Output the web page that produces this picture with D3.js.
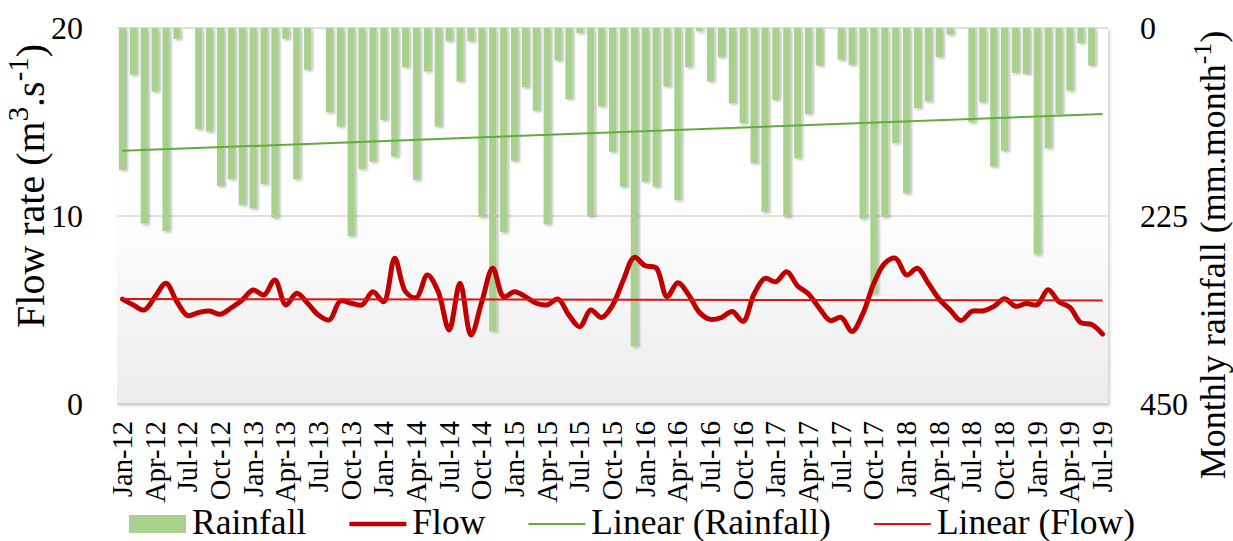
<!DOCTYPE html>
<html>
<head>
<meta charset="utf-8">
<script src="https://cdn.jsdelivr.net/npm/d3@7"></script>
<style>
  html, body { margin: 0; padding: 0; background: #fff; }
  svg { display: block; }
  svg text { font-family: "Liberation Serif", "Times New Roman", serif; }
</style>
</head>
<body>
<svg id="chart" width="1233" height="541"></svg>
<script>
/* ── Data: monthly rainfall (mm) and mean flow (m3/s), Jan-12 .. Jul-19 ── */
const months = d3.timeMonth
  .range(new Date(2012, 0, 1), new Date(2019, 7, 1))
  .map(d3.timeFormat('%b-%y'));

const rainfall = [
  170,  56, 234,  76, 243,  13,   0, 121, 124, 189, 181, 212,   // 2012
  216, 187, 227,  13, 181,  50,   0, 101, 118, 249, 169, 160,   // 2013
  110, 154,  47, 182,  52, 118,  16,  64,  16, 226, 363, 244,   // 2014
  159,  71,  99, 235,  39,  85,   6, 225,  94, 148, 190, 381,   // 2015
  184, 190,  70, 206,  47,   4,  64,  35,  90, 114, 162, 220,   // 2016
   86, 226, 156, 103,  45,   0,  38,  44, 228, 318, 226, 138,   // 2017
  198,  96,  88,  35,   8,   0, 113,  89, 166, 147,  54,  55,   // 2018
  271, 144, 103,  75,  18,  45,   0                             // 2019
];

const flow = [
  5.58, 5.27, 5.00, 5.71, 6.42, 5.44, 4.70, 4.87, 4.95, 4.77, 5.12, 5.53,
  6.06, 5.80, 6.60, 5.27, 5.89, 5.36, 4.73, 4.47, 5.48, 5.36, 5.27, 5.97,
  5.44, 7.75, 5.97, 5.66, 6.86, 5.97, 3.94, 6.42, 3.67, 5.44, 7.22, 5.71,
  5.97, 5.71, 5.36, 5.27, 5.58, 4.73, 4.11, 5.00, 4.60, 5.25, 6.60, 7.80,
  7.35, 7.25, 5.71, 6.45, 5.80, 4.86, 4.50, 4.60, 4.92, 4.40, 5.85, 6.68,
  6.50, 7.04, 6.28, 5.85, 5.09, 4.43, 4.61, 3.85, 4.82, 6.42, 7.48, 7.75,
  6.86, 7.22, 6.42, 5.58, 5.00, 4.44, 4.93, 4.95, 5.18, 5.60, 5.20, 5.34,
  5.28, 6.08, 5.44, 5.14, 4.33, 4.23, 3.72
];

// Linear trend values at the first and last month
const rainfallTrend = [147, 103];
const flowTrend     = [5.58, 5.51];

const tickLabels = [
  'Jan-12', 'Apr-12', 'Jul-12', 'Oct-12', 'Jan-13', 'Apr-13', 'Jul-13', 'Oct-13',
  'Jan-14', 'Apr-14', 'Jul-14', 'Oct-14', 'Jan-15', 'Apr-15', 'Jul-15', 'Oct-15',
  'Jan-16', 'Apr-16', 'Jul-16', 'Oct-16', 'Jan-17', 'Apr-17', 'Jul-17', 'Oct-17',
  'Jan-18', 'Apr-18', 'Jul-18', 'Oct-18', 'Jan-19', 'Apr-19', 'Jul-19'
];
const flowTicks     = [0, 10, 20];
const rainfallTicks = [0, 225, 450];

/* ── Layout ── */
const plot = { left: 117, right: 1108, top: 28, bottom: 404 };

const C_BAR   = '#a9d18e';
const C_FLOW  = '#c00000';
const C_RTRND = '#5fae3a';
const C_FTRND = '#dd1111';

const svg = d3.select('#chart');
const defs = svg.append('defs');

/* 1 ─ Plot area background: white fading to light grey ─────── */
const grad = defs.append('linearGradient')
  .attr('id', 'plotBg').attr('x1', 0).attr('y1', 0).attr('x2', 0).attr('y2', 1);
grad.append('stop').attr('offset', '0%').attr('stop-color', '#ffffff');
grad.append('stop').attr('offset', '45%').attr('stop-color', '#ffffff');
grad.append('stop').attr('offset', '100%').attr('stop-color', '#ececec');

const plotShadow = defs.append('filter').attr('id', 'plotShadow')
  .attr('x', '-5%').attr('y', '-5%').attr('width', '110%').attr('height', '110%');
plotShadow.append('feDropShadow')
  .attr('dx', 2).attr('dy', 2).attr('stdDeviation', 1.5)
  .attr('flood-color', '#000').attr('flood-opacity', 0.18);

const barShadow = defs.append('filter').attr('id', 'barShadow')
  .attr('x', '-50%').attr('y', '-5%').attr('width', '200%').attr('height', '115%');
barShadow.append('feDropShadow')
  .attr('dx', 2).attr('dy', 1.5).attr('stdDeviation', 1.2)
  .attr('flood-color', '#000').attr('flood-opacity', 0.25);

svg.append('rect')
  .attr('x', plot.left).attr('y', plot.top)
  .attr('width', plot.right - plot.left).attr('height', plot.bottom - plot.top)
  .attr('fill', 'url(#plotBg)')
  .attr('filter', 'url(#plotShadow)');

/* 2 ─ Scales ───────────────────────────────────────────────── */
const x = d3.scaleBand()
  .domain(months)
  .range([plot.left, plot.right])
  .paddingInner(0.35)
  .paddingOuter(0.175);
const cx = m => x(m) + x.bandwidth() / 2;

const yFlow = d3.scaleLinear().domain([0, 20]).range([plot.bottom, plot.top]);
const yRain = d3.scaleLinear().domain([0, 450]).range([plot.top, plot.bottom]);

/* 3 ─ Gridlines ────────────────────────────────────────────── */
svg.append('g')
  .selectAll('line')
  .data(flowTicks)
  .join('line')
  .attr('x1', plot.left).attr('x2', plot.right)
  .attr('y1', d => yFlow(d)).attr('y2', d => yFlow(d))
  .attr('stroke', d => d === 0 ? '#c8c8c8' : '#d6d6d6')
  .attr('stroke-width', 1.5);

/* 4 ─ Rainfall bars hanging from the top (inverted axis) ────── */
svg.append('g')
  .attr('filter', 'url(#barShadow)')
  .selectAll('rect')
  .data(months.map((m, i) => ({ m, v: rainfall[i] })))
  .join('rect')
  .attr('x', d => x(d.m))
  .attr('y', yRain(0))
  .attr('width', x.bandwidth())
  .attr('height', d => yRain(d.v) - yRain(0))
  .attr('fill', C_BAR);

/* 5 ─ Trend lines + flow line ──────────────────────────────── */
const first = months[0], last = months[months.length - 1];

svg.append('line')
  .attr('x1', cx(first)).attr('x2', cx(last))
  .attr('y1', yRain(rainfallTrend[0])).attr('y2', yRain(rainfallTrend[1]))
  .attr('stroke', C_RTRND).attr('stroke-width', 2);

const flowLine = d3.line()
  .x((d, i) => cx(months[i]))
  .y(d => yFlow(d))
  .curve(d3.curveCatmullRom.alpha(0.5));

svg.append('path')
  .datum(flow)
  .attr('d', flowLine)
  .attr('fill', 'none')
  .attr('stroke', C_FLOW)
  .attr('stroke-width', 5)
  .attr('stroke-linejoin', 'round')
  .attr('stroke-linecap', 'round');

svg.append('line')
  .attr('x1', cx(first)).attr('x2', cx(last))
  .attr('y1', yFlow(flowTrend[0])).attr('y2', yFlow(flowTrend[1]))
  .attr('stroke', C_FTRND).attr('stroke-width', 2);

/* 6 ─ Axes ─────────────────────────────────────────────────── */
// d3 puts sans-serif / 10px on the axis <g>; drop that so the serif font applies
function plainAxis(g, size) {
  g.attr('font-family', null).attr('font-size', null);
  g.select('.domain').remove();
  g.selectAll('text')
    .attr('fill', '#000')
    .style('font-family', '"Liberation Serif", "Times New Roman", serif')
    .style('font-size', size + 'px');
  return g;
}

const xAxis = svg.append('g')
  .attr('transform', `translate(0,${plot.bottom})`)
  .call(d3.axisBottom(x).tickValues(tickLabels).tickSize(0).tickPadding(0));
plainAxis(xAxis, 28.5);
xAxis.selectAll('text')
  .attr('text-anchor', 'end')
  .attr('transform', 'rotate(-90)')
  .attr('x', -17)
  .attr('y', 0)
  .attr('dy', '0.33em');

const leftAxis = svg.append('g')
  .attr('transform', `translate(${plot.left},0)`)
  .call(d3.axisLeft(yFlow).tickValues(flowTicks).tickSize(0).tickPadding(34));
plainAxis(leftAxis, 32);

const rightAxis = svg.append('g')
  .attr('transform', `translate(${plot.right},0)`)
  .call(d3.axisRight(yRain).tickValues(rainfallTicks).tickSize(0).tickPadding(32));
plainAxis(rightAxis, 32);

/* 7 ─ Axis titles (with superscripts) ──────────────────────── */
// (tx, ty) is the baseline point at the middle of the rotated title
function title(tx, ty, size, parts) {
  const t = svg.append('text')
    .attr('transform', `translate(${tx},${ty}) rotate(-90)`)
    .attr('text-anchor', 'middle')
    .attr('font-size', size)
    .attr('fill', '#000');
  parts.forEach(([s, sup]) => {
    const sp = t.append('tspan').text(s);
    if (sup) sp.attr('baseline-shift', 'super').attr('font-size', '72%');
  });
}
title(44, 186, 40, [['Flow rate (m'], ['3', true], ['.s'], ['-1', true], [')']]);
title(1225, 255, 36, [['Monthly rainfall (mm.month'], ['-1', true], [')']]);

/* 8 ─ Legend ───────────────────────────────────────────────── */
const legend = [
  { label: 'Rainfall',          kind: 'bar' },
  { label: 'Flow',              kind: 'line', color: C_FLOW,  w: 4.5 },
  { label: 'Linear (Rainfall)', kind: 'line', color: C_RTRND, w: 2 },
  { label: 'Linear (Flow)',     kind: 'line', color: C_FTRND, w: 2 }
];
const LEG_Y = 524, SW = 57;
let lx = 129;
legend.forEach(item => {
  if (item.kind === 'bar') {
    svg.append('rect')
      .attr('x', lx).attr('y', LEG_Y - 9).attr('width', SW).attr('height', 18)
      .attr('fill', C_BAR);
  } else {
    svg.append('line')
      .attr('x1', lx).attr('x2', lx + SW).attr('y1', LEG_Y).attr('y2', LEG_Y)
      .attr('stroke', item.color).attr('stroke-width', item.w);
  }
  const t = svg.append('text')
    .attr('x', lx + SW + 6).attr('y', LEG_Y + 10)
    .attr('font-size', 35.5).attr('fill', '#000')
    .text(item.label);
  lx += SW + 6 + t.node().getComputedTextLength() + 43;
});
</script>
</body>
</html>
